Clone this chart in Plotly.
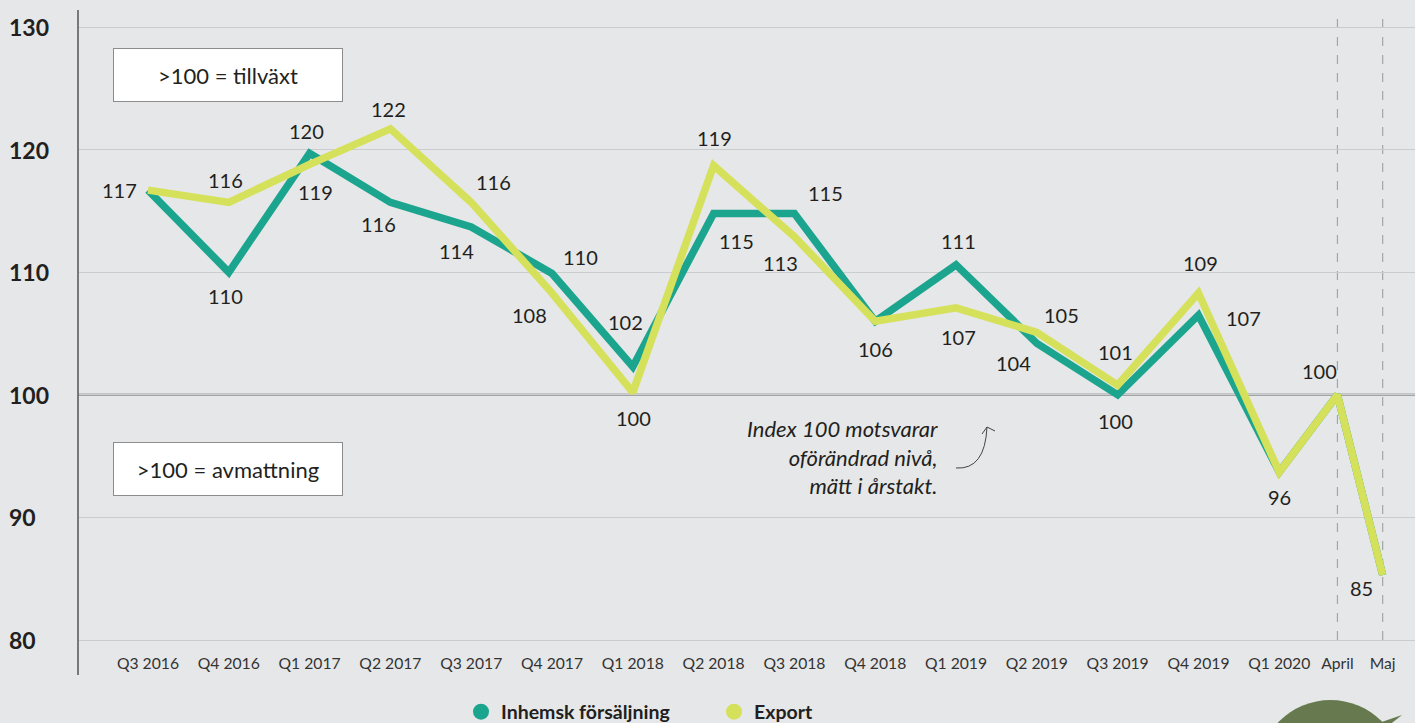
import plotly.graph_objects as go

# ---------------- data ----------------
categories = ["Q3 2016", "Q4 2016", "Q1 2017", "Q2 2017", "Q3 2017", "Q4 2017",
              "Q1 2018", "Q2 2018", "Q3 2018", "Q4 2018", "Q1 2019", "Q2 2019",
              "Q3 2019", "Q4 2019", "Q1 2020", "April", "Maj"]
inhemsk = [116.7, 110.0, 119.7, 115.7, 113.7, 109.9, 102.3, 114.8, 114.8, 106.0,
           110.6, 104.2, 100.0, 106.5, 93.7, 100.0, 85.3]
export = [116.7, 115.7, 118.8, 121.7, 115.7, 108.3, 100.2, 118.7, 112.9, 106.0,
          107.1, 105.1, 100.8, 108.3, 93.7, 100.0, 85.3]
inhemsk_labels = ["117", "110", "120", "116", "114", "110", "102", "115", "115", "106",
                  "111", "104", "100", "107", "96", "100", "85"]
export_labels = ["117", "116", "119", "122", "116", "108", "100", "119", "113", "106",
                 "107", "105", "101", "109", "96", "100", "85"]
y_ticks = [80, 90, 100, 110, 120, 130]
series_names = ["Inhemsk försäljning", "Export"]

# ---------------- layout / style ----------------
x_pos = list(range(15)) + [14.72, 15.28]   # category spacing (months are narrower)
month_lines = [14.72, 15.28]

TEAL = "#1ca58e"
LIME = "#d5e15a"
BG = "#e6e7e8"
FONT = "Lato"
TXT = "#231f20"

W, H = 1415, 723
ML, MR, MT, MB = 78, 0, 10, 75
PW, PH = W - ML - MR, H - MT - MB


def px(xp, yp):
    """pixel -> paper coordinates (for decorations)"""
    return (xp - ML) / PW, (H - MB - yp) / PH


# label offsets (px: dx right, dy down)
inhemsk_off = [(-28, 0), (-3, 24), (-3, -22), (-12, 22), (-15, 24), (28, -16), (-7, -45),
               (23, 28), (31, -20), (0, 28), (2, -24), (-23, 20), (-2, 26), (45, 3),
               (0, 25), (-18, -24), (-21, 13)]
export_off = [(-28, 0), (-3, -22), (6, 28), (-2, -20), (22, -20), (-23, 22), (1, 26),
              (1, -28), (-14, 26), (0, 28), (2, 29), (25, -17), (-2, -33), (2, -30),
              (0, 25), (-18, -24), (-21, 13)]

fig = go.Figure()
fig.add_trace(go.Scatter(x=x_pos, y=inhemsk, mode="lines", name=series_names[0],
                         line=dict(color=TEAL, width=7.5), showlegend=False,
                         hoverinfo="skip"))
fig.add_trace(go.Scatter(x=x_pos, y=export, mode="lines", name=series_names[1],
                         line=dict(color=LIME, width=7.5), showlegend=False,
                         hoverinfo="skip"))
# legend entries (circles)
for nm, col in zip(series_names, [TEAL, LIME]):
    fig.add_trace(go.Scatter(x=[None], y=[None], mode="markers", name=nm,
                             marker=dict(color=col, size=18, symbol="circle")))

annotations = []
# data labels (a shared label is drawn once)
seen = set()
for vals, labs, offs in [(inhemsk, inhemsk_labels, inhemsk_off),
                         (export, export_labels, export_off)]:
    for xv, yv, lab, (dx, dy) in zip(x_pos, vals, labs, offs):
        key = (xv, round(yv, 1), lab, dx, dy)
        if key in seen:
            continue
        seen.add(key)
        annotations.append(dict(x=xv, y=yv, xref="x", yref="y", text=lab,
                                showarrow=False, xshift=dx, yshift=-dy,
                                font=dict(family=FONT, size=20, color=TXT)))
# y tick labels (left aligned, bold)
for t in y_ticks:
    annotations.append(dict(x=px(7, 0)[0], y=t, xref="paper", yref="y", text=f"<b>{t}</b>",
                            showarrow=False, xanchor="left", yanchor="middle",
                            font=dict(family=FONT, size=23, color=TXT)))
# boxes
for text, cy in [(">100 = tillväxt", 75), (">100 = avmattning", 469)]:
    bx, by = px(228, cy)
    annotations.append(dict(x=bx, y=by, xref="paper", yref="paper", text=text,
                            showarrow=False, xanchor="center", yanchor="middle",
                            width=228, height=52, bgcolor="white",
                            bordercolor="#8c8c8c", borderwidth=1, borderpad=0,
                            font=dict(family=FONT, size=22, color=TXT)))
# italic note
nx, ny = px(940, 457)
annotations.append(dict(x=nx, y=ny, xref="paper", yref="paper",
                        text="<i>Index 100 motsvarar<br>oförändrad nivå,<br>mätt i årstakt.</i>",
                        showarrow=False, xanchor="right", yanchor="middle", align="right",
                        font=dict(family=FONT, size=22, color=TXT)))

shapes = []
# y axis line (extends below plot area)
_, ytop = px(78, 10)
_, ybot = px(78, 675)
shapes.append(dict(type="line", xref="paper", yref="paper", x0=0, x1=0, y0=ybot, y1=ytop,
                   line=dict(color="#555555", width=1.5)))
# 100 line
shapes.append(dict(type="line", xref="paper", yref="y", x0=0, x1=1, y0=100, y1=100,
                   line=dict(color="#a2a3a4", width=2.5), layer="below"))
# dashed month lines
for mx in month_lines:
    shapes.append(dict(type="line", xref="x", yref="paper", x0=mx, x1=mx,
                       y0=px(0, 640)[1], y1=1, line=dict(color="#a5a5a5", width=1.2, dash="dash"),
                       layer="below"))
# curved arrow
t = px(956, 468); c = px(985, 470); tip = px(987, 427)
shapes.append(dict(type="path", xref="paper", yref="paper",
                   path=f"M {t[0]} {t[1]} Q {c[0]} {c[1]} {tip[0]} {tip[1]}",
                   line=dict(color="#444444", width=1)))
a1 = px(982, 434); a2 = px(995, 431)
shapes.append(dict(type="path", xref="paper", yref="paper",
                   path=f"M {a1[0]} {a1[1]} L {tip[0]} {tip[1]} L {a2[0]} {a2[1]}",
                   line=dict(color="#444444", width=1)))
# decorative green blob bottom right
b0 = px(1258, 700); b1 = px(1403, 845)
shapes.append(dict(type="circle", xref="paper", yref="paper", x0=b0[0], x1=b1[0],
                   y0=b1[1], y1=b0[1], fillcolor="#66794f", line=dict(width=0)))
p1 = px(1370, 726); p2 = px(1402, 715); p3 = px(1388, 726)
shapes.append(dict(type="path", xref="paper", yref="paper",
                   path=f"M {p1[0]} {p1[1]} L {p2[0]} {p2[1]} L {p3[0]} {p3[1]} Z",
                   fillcolor="#66794f", line=dict(width=0)))

lx, ly = px(461, 712)
fig.update_layout(
    width=W, height=H,
    margin=dict(l=ML, r=MR, t=MT, b=MB, autoexpand=False),
    paper_bgcolor=BG, plot_bgcolor=BG,
    font=dict(family=FONT, color=TXT),
    xaxis=dict(range=[-0.866, 15.68], tickvals=x_pos, ticktext=categories,
               showgrid=False, zeroline=False, showline=False, ticks="",
               ticklabelstandoff=4,
               tickfont=dict(family=FONT, size=15.7, color="#333333"), fixedrange=True),
    yaxis=dict(range=[79.35, 131.39], tickvals=y_ticks, showticklabels=False,
               showgrid=True, gridcolor="#cbcccd", gridwidth=1.3, zeroline=False,
               showline=False, fixedrange=True),
    legend=dict(orientation="h", x=lx, y=ly, xanchor="left", yanchor="middle",
                font=dict(family=FONT, size=19.5, color=TXT, weight="bold"),
                entrywidth=208, entrywidthmode="pixels", bgcolor="rgba(0,0,0,0)",
                itemsizing="trace"),
    annotations=annotations,
    shapes=shapes,
    showlegend=True,
)
fig.write_html("out.html", config={"displayModeBar": False},
               post_script="document.body.style.margin='0px';document.body.style.overflow='hidden';")
